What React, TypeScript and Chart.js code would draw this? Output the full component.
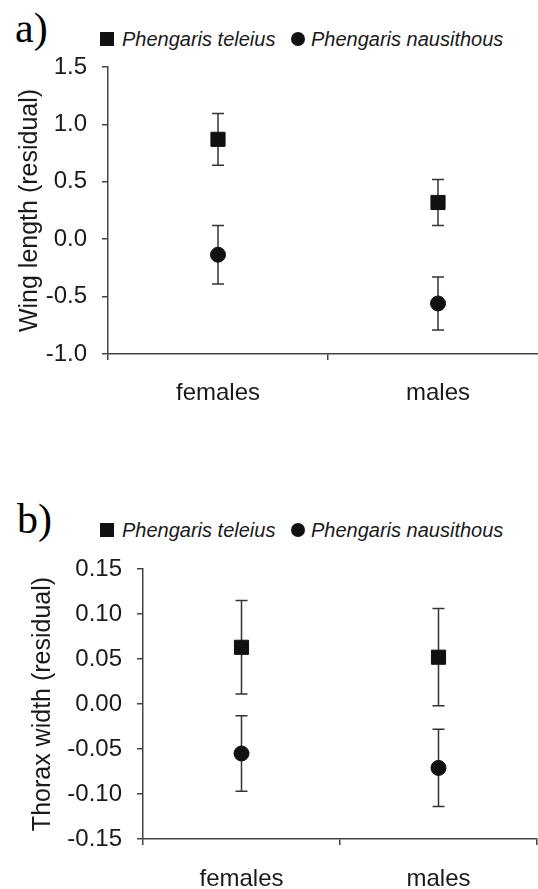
import React, { useEffect, useRef } from 'react';
import { Chart, registerables } from 'chart.js';

Chart.register(...registerables);

// ---- data ----
const categories = ['females', 'males'];
const seriesNames = ['Phengaris teleius', 'Phengaris nausithous'];

const wingTeleius = [0.87, 0.32];
const wingTeleiusErr = [0.225, 0.2];
const wingNausithous = [-0.135, -0.56];
const wingNausithousErr = [0.255, 0.23];
const wingTicks = [-1.0, -0.5, 0.0, 0.5, 1.0, 1.5];

const thoraxTeleius = [0.063, 0.052];
const thoraxTeleiusErr = [0.052, 0.054];
const thoraxNausithous = [-0.055, -0.071];
const thoraxNausithousErr = [0.042, 0.043];
const thoraxTicks = [-0.15, -0.1, -0.05, 0.0, 0.05, 0.1, 0.15];

const SANS = '"Liberation Sans", Arial, sans-serif';
const SERIF = '"Liberation Serif", "Times New Roman", serif';
const AXIS = '#444';
const TEXT = '#1a1a1a';
const MARK = '#111';

const errorBarPlugin = {
  id: 'errorBars',
  beforeDatasetsDraw(chart: any) {
    const ctx = chart.ctx;
    const y = chart.scales.y;
    chart.data.datasets.forEach((ds: any, di: number) => {
      const meta = chart.getDatasetMeta(di);
      meta.data.forEach((pt: any, i: number) => {
        const v = ds.data[i];
        const e = ds.errors[i];
        const yt = y.getPixelForValue(v + e);
        const yb = y.getPixelForValue(v - e);
        ctx.save();
        ctx.strokeStyle = '#333';
        ctx.lineWidth = 1.5;
        ctx.beginPath();
        ctx.moveTo(pt.x, yt);
        ctx.lineTo(pt.x, yb);
        ctx.moveTo(pt.x - 6, yt);
        ctx.lineTo(pt.x + 6, yt);
        ctx.moveTo(pt.x - 6, yb);
        ctx.lineTo(pt.x + 6, yb);
        ctx.stroke();
        ctx.restore();
      });
    });
  },
};

type PanelProps = {
  top: number;
  width: number;
  height: number;
  padTop: number;
  padRight: number;
  yWidth: number;
  xHeight: number;
  xPad: number;
  title: string;
  titlePad: number;
  teleius: number[];
  teleiusErr: number[];
  nausithous: number[];
  nausithousErr: number[];
  ticks: number[];
  decimals: number;
};

function Panel(p: PanelProps) {
  const ref = useRef<HTMLCanvasElement>(null);
  useEffect(() => {
    if (!ref.current) return;
    const chart = new Chart(ref.current, {
      type: 'line',
      data: {
        labels: categories,
        datasets: [
          {
            label: seriesNames[0],
            data: p.teleius,
            errors: p.teleiusErr,
            showLine: false,
            pointStyle: 'rect',
            pointRadius: 10,
            backgroundColor: MARK,
            borderColor: MARK,
            pointBorderWidth: 1,
          } as any,
          {
            label: seriesNames[1],
            data: p.nausithous,
            errors: p.nausithousErr,
            showLine: false,
            pointStyle: 'circle',
            pointRadius: 7.5,
            backgroundColor: MARK,
            borderColor: MARK,
            pointBorderWidth: 1,
          } as any,
        ],
      },
      options: {
        animation: false,
        responsive: false,
        devicePixelRatio: 1,
        layout: { padding: { top: p.padTop, right: p.padRight, left: 0, bottom: 0 } },
        plugins: { legend: { display: false }, tooltip: { enabled: false } },
        scales: {
          x: {
            type: 'category',
            offset: true,
            grid: {
              offset: true,
              drawOnChartArea: false,
              drawTicks: true,
              tickLength: 6,
              color: AXIS,
              lineWidth: 1.5,
            },
            border: { display: true, color: AXIS, width: 1.5 },
            ticks: { font: { size: 24, family: SANS }, color: TEXT, padding: p.xPad },
            afterFit: (s: any) => {
              s.height = p.xHeight;
            },
          },
          y: {
            type: 'linear',
            min: p.ticks[0],
            max: p.ticks[p.ticks.length - 1],
            afterBuildTicks: (s: any) => {
              s.ticks = p.ticks.map((v) => ({ value: v }));
            },
            grid: {
              drawOnChartArea: false,
              drawTicks: true,
              tickLength: 6,
              color: AXIS,
              lineWidth: 1.5,
            },
            border: { display: true, color: AXIS, width: 1.5 },
            ticks: {
              font: { size: 24, family: SANS },
              color: TEXT,
              padding: 15,
              callback: (v: any) => Number(v).toFixed(p.decimals),
            },
            title: {
              display: true,
              text: p.title,
              font: { size: 25, family: SANS },
              color: TEXT,
              padding: { top: p.titlePad, bottom: 0 },
            },
            afterFit: (s: any) => {
              s.width = p.yWidth;
            },
          },
        },
      },
      plugins: [errorBarPlugin],
    });
    return () => chart.destroy();
  }, []);
  return (
    <canvas
      ref={ref}
      width={p.width}
      height={p.height}
      style={{ position: 'absolute', left: 0, top: p.top, width: p.width, height: p.height, display: 'block' }}
    />
  );
}

function Legend({ top }: { top: number }) {
  const text: React.CSSProperties = {
    position: 'absolute',
    top: top,
    fontFamily: SANS,
    fontStyle: 'italic',
    fontSize: 20,
    lineHeight: '20px',
    color: TEXT,
    whiteSpace: 'nowrap',
  };
  return (
    <>
      <div style={{ position: 'absolute', left: 100, top: top + 3, width: 14, height: 14, background: MARK }} />
      <div style={{ ...text, left: 122 }}>{seriesNames[0]}</div>
      <div
        style={{ position: 'absolute', left: 291, top: top + 3, width: 14, height: 14, borderRadius: '50%', background: MARK }}
      />
      <div style={{ ...text, left: 311 }}>{seriesNames[1]}</div>
    </>
  );
}

function PanelLabel({ top, left, text }: { top: number; left: number; text: string }) {
  return (
    <div
      style={{
        position: 'absolute',
        left,
        top,
        fontFamily: SERIF,
        fontSize: 42,
        lineHeight: '42px',
        color: '#000',
      }}
    >
      {text}
    </div>
  );
}

export default function App() {
  return (
    <div
      style={{
        position: 'absolute',
        left: 0,
        top: 0,
        width: 538,
        height: 889,
        overflow: 'hidden',
        background: '#fff',
      }}
    >
      <PanelLabel top={7} left={15} text="a)" />
      <Legend top={29} />
      <Panel
        top={0}
        width={570}
        height={440}
        padTop={67}
        padRight={22}
        yWidth={108}
        xHeight={86}
        xPad={19}
        title="Wing length (residual)"
        titlePad={15}
        teleius={wingTeleius}
        teleiusErr={wingTeleiusErr}
        nausithous={wingNausithous}
        nausithousErr={wingNausithousErr}
        ticks={wingTicks}
        decimals={1}
      />
      <PanelLabel top={498} left={17} text="b)" />
      <Legend top={520} />
      <Panel
        top={460}
        width={570}
        height={429}
        padTop={109}
        padRight={33}
        yWidth={143}
        xHeight={50}
        xPad={20}
        title="Thorax width (residual)"
        titlePad={28}
        teleius={thoraxTeleius}
        teleiusErr={thoraxTeleiusErr}
        nausithous={thoraxNausithous}
        nausithousErr={thoraxNausithousErr}
        ticks={thoraxTicks}
        decimals={2}
      />
    </div>
  );
}
